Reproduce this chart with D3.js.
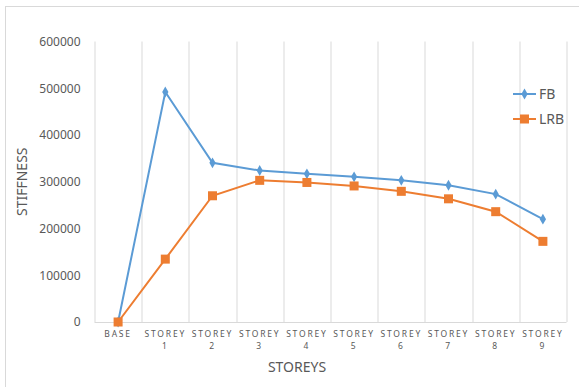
<!DOCTYPE html>
<meta charset="utf-8">
<style>
body { margin: 0; background: #fff; }
text { font-family: "Noto Sans", "Open Sans", sans-serif; fill: #595959; }
</style>
<svg width="579" height="387"></svg>
<script src="https://d3js.org/d3.v7.min.js"></script>
<script>

var categories = ["BASE", "STOREY 1", "STOREY 2", "STOREY 3", "STOREY 4", "STOREY 5", "STOREY 6", "STOREY 7", "STOREY 8", "STOREY 9"];
var fb = [0, 492000, 340500, 324000, 317000, 310500, 303000, 292500, 273500, 220000];
var lrb = [0, 134500, 270000, 303000, 298500, 291000, 279500, 263500, 236000, 172500];
var yTicks = [0, 100000, 200000, 300000, 400000, 500000, 600000];

var svg = d3.select("svg"),
    margin = {top: 41.5, right: 12.5, bottom: 65, left: 94.5},
    width = 579 - margin.left - margin.right,
    height = 387 - margin.top - margin.bottom;

// outer frame
svg.append("rect")
    .attr("x", 5.5).attr("y", 6.5)
    .attr("width", 600).attr("height", 400)
    .attr("fill", "none").attr("stroke", "#d9d9d9");

var x = d3.scaleBand().domain(categories).range([0, width]),
    y = d3.scaleLinear().domain([0, 600000]).range([height, 0]);

var g = svg.append("g")
    .attr("transform", "translate(" + margin.left + "," + margin.top + ")");

// vertical gridlines at category boundaries
var bounds = categories.map(function(d) { return x(d); }).concat([width]);
g.selectAll(".vgrid")
  .data(bounds)
  .enter().append("line")
    .attr("x1", function(d) { return Math.round(d) + 0.5; })
    .attr("x2", function(d) { return Math.round(d) + 0.5; })
    .attr("y1", 0).attr("y2", height)
    .attr("stroke", "#d9d9d9");

g.append("line")
    .attr("x1", 0).attr("x2", width)
    .attr("y1", height + 0.5).attr("y2", height + 0.5)
    .attr("stroke", "#d9d9d9");

// y axis
var yAxis = g.append("g")
    .call(d3.axisLeft(y).tickValues(yTicks).tickSize(0).tickPadding(14).tickFormat(d3.format("d")));
yAxis.select(".domain").remove();
yAxis.selectAll("text").style("font-size", "12px").attr("fill", "#595959");

// x axis labels (two lines)
var xl = g.append("g").attr("transform", "translate(0," + height + ")");
xl.selectAll("text")
  .data(categories)
  .enter().append("text")
    .attr("x", function(d) { return x(d) + x.bandwidth() / 2; })
    .attr("y", 15)
    .attr("text-anchor", "middle")
    .style("font-size", "8.5px")
    .style("letter-spacing", "1.8px")
    .each(function(d) {
      var parts = d.split(" ");
      var t = d3.select(this);
      t.append("tspan").attr("x", x(d) + x.bandwidth() / 2).text(parts[0]);
      if (parts[1]) t.append("tspan").attr("x", x(d) + x.bandwidth() / 2).attr("dy", 12).text(parts[1]);
    });

// axis titles
svg.append("text")
    .attr("transform", "translate(27," + (margin.top + height / 2) + ") rotate(-90)")
    .attr("text-anchor", "middle")
    .style("font-size", "14px")
    .text("STIFFNESS");

svg.append("text")
    .attr("x", 297).attr("y", 372)
    .attr("text-anchor", "middle")
    .style("font-size", "14px")
    .text("STOREYS");

var cx = function(d, i) { return x(categories[i]) + x.bandwidth() / 2; };
var line = d3.line().x(cx).y(function(d) { return y(d); });

g.append("path").datum(fb)
    .attr("fill", "none").attr("stroke", "#5b9bd5").attr("stroke-width", 2)
    .attr("d", line);
g.append("path").datum(lrb)
    .attr("fill", "none").attr("stroke", "#ed7d31").attr("stroke-width", 2)
    .attr("d", line);

g.selectAll(".fb")
  .data(fb)
  .enter().append("path")
    .attr("transform", function(d, i) { return "translate(" + cx(d, i) + "," + y(d) + ")"; })
    .attr("d", d3.symbol(d3.symbolDiamond, 34))
    .attr("fill", "#5b9bd5");

g.selectAll(".lrb")
  .data(lrb)
  .enter().append("rect")
    .attr("x", function(d, i) { return cx(d, i) - 4.5; })
    .attr("y", function(d) { return y(d) - 4.5; })
    .attr("width", 9).attr("height", 9)
    .attr("fill", "#ed7d31");

// legend
var legend = [{name: "FB", color: "#5b9bd5", sym: "d"}, {name: "LRB", color: "#ed7d31", sym: "s"}];
var lg = svg.selectAll(".legend")
  .data(legend)
  .enter().append("g")
    .attr("transform", function(d, i) { return "translate(513," + (94 + i * 25) + ")"; });
lg.append("line")
    .attr("x1", 0).attr("x2", 23)
    .attr("stroke", function(d) { return d.color; }).attr("stroke-width", 2);
lg.each(function(d) {
  var s = d3.select(this);
  if (d.sym == "d") s.append("path").attr("transform", "translate(11.5,0)").attr("d", d3.symbol(d3.symbolDiamond, 34)).attr("fill", d.color);
  else s.append("rect").attr("x", 7).attr("y", -4.5).attr("width", 9).attr("height", 9).attr("fill", d.color);
});
lg.append("text")
    .attr("x", 26).attr("y", 5)
    .style("font-size", "14px")
    .text(function(d) { return d.name; });

</script>
